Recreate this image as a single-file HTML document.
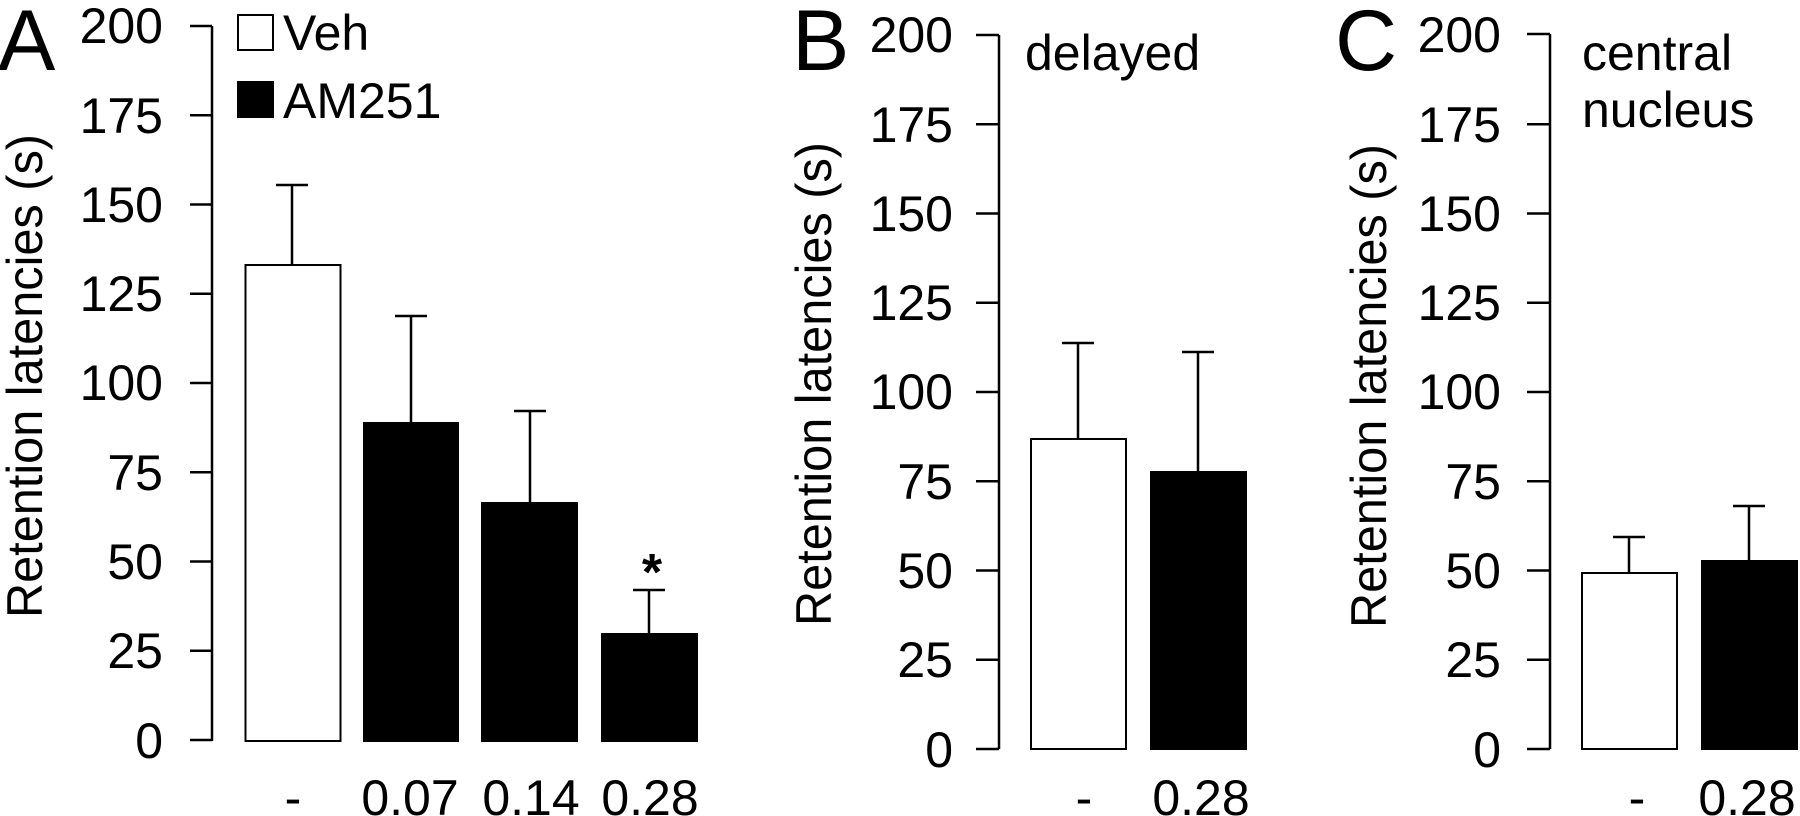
<!DOCTYPE html>
<html><head><style>html,body{margin:0;padding:0;background:#fff;overflow:hidden}svg{display:block}</style></head>
<body>
<svg width="1800" height="816" xmlns="http://www.w3.org/2000/svg" font-family="Liberation Sans, Arial, sans-serif" fill="#000">
<g stroke="#000" stroke-width="2.5" fill="none">
<line x1="212" y1="26" x2="212" y2="741"/>
<line x1="190" y1="26" x2="212" y2="26"/><line x1="190" y1="115.25" x2="212" y2="115.25"/><line x1="190" y1="204.5" x2="212" y2="204.5"/><line x1="190" y1="293.75" x2="212" y2="293.75"/><line x1="190" y1="383" x2="212" y2="383"/><line x1="190" y1="472.25" x2="212" y2="472.25"/><line x1="190" y1="561.5" x2="212" y2="561.5"/><line x1="190" y1="650.75" x2="212" y2="650.75"/><line x1="190" y1="740" x2="212" y2="740"/>
<line x1="999" y1="35" x2="999" y2="749"/>
<line x1="976" y1="35" x2="999" y2="35"/><line x1="976" y1="124.25" x2="999" y2="124.25"/><line x1="976" y1="213.5" x2="999" y2="213.5"/><line x1="976" y1="302.75" x2="999" y2="302.75"/><line x1="976" y1="392" x2="999" y2="392"/><line x1="976" y1="481.25" x2="999" y2="481.25"/><line x1="976" y1="570.5" x2="999" y2="570.5"/><line x1="976" y1="659.75" x2="999" y2="659.75"/><line x1="976" y1="749" x2="999" y2="749"/>
<line x1="1550" y1="34" x2="1550" y2="749"/>
<line x1="1527" y1="34" x2="1550" y2="34"/><line x1="1527" y1="124.25" x2="1550" y2="124.25"/><line x1="1527" y1="213.5" x2="1550" y2="213.5"/><line x1="1527" y1="302.75" x2="1550" y2="302.75"/><line x1="1527" y1="392" x2="1550" y2="392"/><line x1="1527" y1="481.25" x2="1550" y2="481.25"/><line x1="1527" y1="570.5" x2="1550" y2="570.5"/><line x1="1527" y1="659.75" x2="1550" y2="659.75"/><line x1="1527" y1="749" x2="1550" y2="749"/>
<line x1="292" y1="265" x2="292" y2="185"/><line x1="276" y1="185" x2="308" y2="185"/>
<line x1="411" y1="422" x2="411" y2="316"/><line x1="395" y1="316" x2="427" y2="316"/>
<line x1="530" y1="502" x2="530" y2="411"/><line x1="514" y1="411" x2="546" y2="411"/>
<line x1="649" y1="633" x2="649" y2="590"/><line x1="633" y1="590" x2="665" y2="590"/>
<line x1="1078" y1="439" x2="1078" y2="343"/><line x1="1062" y1="343" x2="1094" y2="343"/>
<line x1="1198" y1="471" x2="1198" y2="352"/><line x1="1182" y1="352" x2="1214" y2="352"/>
<line x1="1629" y1="573" x2="1629" y2="537"/><line x1="1613" y1="537" x2="1645" y2="537"/>
<line x1="1749" y1="560" x2="1749" y2="506"/><line x1="1733" y1="506" x2="1765" y2="506"/>
</g>
<rect x="245.5" y="265" width="95" height="476" fill="#fff" stroke="#000" stroke-width="2"/>
<rect x="363" y="422" width="96" height="320"/>
<rect x="481" y="502" width="97" height="240"/>
<rect x="601" y="633" width="97" height="109"/>
<rect x="1031" y="439" width="95" height="310" fill="#fff" stroke="#000" stroke-width="2"/>
<rect x="1150" y="471" width="97" height="279"/>
<rect x="1582" y="573" width="95" height="176" fill="#fff" stroke="#000" stroke-width="2"/>
<rect x="1701" y="560" width="97" height="190"/>
<rect x="238" y="15" width="35" height="35" fill="#fff" stroke="#000" stroke-width="2"/>
<rect x="237" y="81" width="37" height="37"/>
<g font-size="50">
<text x="283" y="50">Veh</text>
<text x="283" y="118">AM251</text>
<text x="652" y="590" text-anchor="middle" font-weight="bold" font-size="52">*</text>
</g>
<g font-size="50" text-anchor="end">
<text x="163" y="43">200</text><text x="163" y="133">175</text><text x="163" y="222">150</text><text x="163" y="311">125</text><text x="163" y="400">100</text><text x="163" y="490">75</text><text x="163" y="579">50</text><text x="163" y="668">25</text><text x="163" y="758">0</text>
<text x="953" y="52">200</text><text x="953" y="142">175</text><text x="953" y="231">150</text><text x="953" y="320">125</text><text x="953" y="409">100</text><text x="953" y="499">75</text><text x="953" y="588">50</text><text x="953" y="677">25</text><text x="953" y="767">0</text>
<text x="1501" y="52">200</text><text x="1501" y="142">175</text><text x="1501" y="231">150</text><text x="1501" y="320">125</text><text x="1501" y="409">100</text><text x="1501" y="499">75</text><text x="1501" y="588">50</text><text x="1501" y="677">25</text><text x="1501" y="767">0</text>
</g>
<g font-size="50" text-anchor="middle">
<text x="293" y="815">-</text><text x="410" y="815">0.07</text><text x="531" y="815">0.14</text><text x="650" y="815">0.28</text>
<text x="1084" y="815">-</text><text x="1201" y="815">0.28</text>
<text x="1637" y="815">-</text><text x="1747" y="815">0.28</text>
</g>
<g font-size="50">
<text x="1025" y="70">delayed</text>
<text x="1582" y="70">central</text>
<text x="1582" y="127">nucleus</text>
</g>
<g font-size="86">
<text x="-2" y="70">A</text>
<text x="792" y="70">B</text>
<text x="1335" y="70">C</text>
</g>
<g font-size="50" text-anchor="middle">
<text transform="translate(42,376) rotate(-90)" textLength="484" lengthAdjust="spacingAndGlyphs">Retention latencies (s)</text>
<text transform="translate(831,384) rotate(-90)" textLength="484" lengthAdjust="spacingAndGlyphs">Retention latencies (s)</text>
<text transform="translate(1386,386) rotate(-90)" textLength="484" lengthAdjust="spacingAndGlyphs">Retention latencies (s)</text>
</g>
</svg>
</body></html>
